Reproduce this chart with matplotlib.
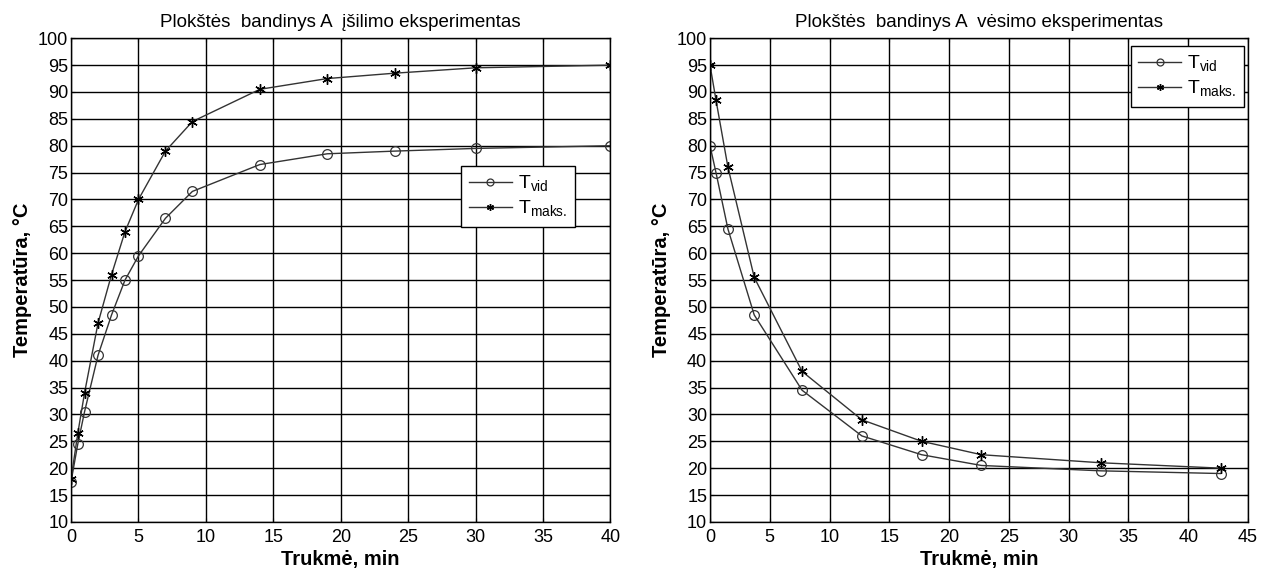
import numpy as np
import matplotlib
matplotlib.use("Agg")
import matplotlib.pyplot as plt

plt.rcParams['font.family'] = ['Liberation Sans', 'DejaVu Sans']
plt.rcParams['mathtext.fontset'] = 'custom'
plt.rcParams['mathtext.rm'] = 'Liberation Sans'

# heating experiment
heat_t = [0, 0.5, 1, 2, 3, 4, 5, 7, 9, 14, 19, 24, 30, 40]
heat_vid = [17.5, 24.5, 30.5, 41, 48.5, 55, 59.5, 66.5, 71.5, 76.5, 78.5, 79, 79.5, 80]
heat_maks = [18, 26.5, 34, 47, 56, 64, 70, 79, 84.5, 90.5, 92.5, 93.5, 94.5, 95]

# cooling experiment
cool_t = [0, 0.5, 1.5, 3.7, 7.7, 12.7, 17.7, 22.7, 32.7, 42.7]
cool_vid = [80, 75, 64.5, 48.5, 34.5, 26, 22.5, 20.5, 19.5, 19]
cool_maks = [95, 88.5, 76, 55.5, 38, 29, 25, 22.5, 21, 20]

titles = ["Plokštės  bandinys A  įšilimo eksperimentas",
          "Plokštės  bandinys A  vėsimo eksperimentas"]
xlims = [40, 45]
line_col = '#333333'

fig = plt.figure(figsize=(12.69, 5.71), dpi=100)
ax1 = fig.add_axes([0.056, 0.086, 0.425, 0.847])
ax2 = fig.add_axes([0.5595, 0.086, 0.424, 0.847])

data = [(heat_t, heat_vid, heat_maks), (cool_t, cool_vid, cool_maks)]
for i, (ax, (t, vid, maks)) in enumerate(zip([ax1, ax2], data)):
    ax.plot(t, vid, '-', color=line_col, lw=1.0, marker='o', ms=7,
            mfc='none', mec=line_col, mew=0.9, label=r'T$_{\mathrm{vid}}$')
    ax.plot(t, maks, '-', color=line_col, lw=1.0, marker=(6, 2, 0), ms=7.5,
            mec='black', mew=1.0, label=r'T$_{\mathrm{maks.}}$')
    ax.set_xlim(0, xlims[i])
    ax.set_ylim(10, 100)
    ax.set_yticks(np.arange(10, 101, 5))
    ax.set_xticks(np.arange(0, xlims[i] + 1, 5))
    ax.grid(True, color='black', lw=1.0, ls='-')
    ax.set_axisbelow(True)
    ax.tick_params(direction='in', length=3, labelsize=13, top=True, right=True)
    ax.tick_params(axis='x', pad=5)
    ax.tick_params(axis='y', pad=2)
    for s in ax.spines.values():
        s.set_linewidth(1.0)
    ax.set_title(titles[i], fontsize=13.5, pad=8)
    ax.set_xlabel('Trukmė, min', fontsize=14.5, fontweight='bold', labelpad=3)
    ax.set_ylabel('Temperatūra, °C', fontsize=14.5, fontweight='bold', labelpad=4)

leg_kw = dict(fontsize=14, fancybox=False, edgecolor='black', framealpha=1,
              handlelength=2.2, handletextpad=0.3, borderpad=0.4,
              labelspacing=0.25, borderaxespad=0)
leg1 = ax1.legend(loc='upper left', bbox_to_anchor=(0.7236, 0.7355), **leg_kw)
leg2 = ax2.legend(loc='upper right', bbox_to_anchor=(0.9926, 0.9835), **leg_kw)
for leg in (leg1, leg2):
    leg.get_frame().set_linewidth(1.0)
    for h in leg.legend_handles:
        h.set_markersize(5)

fig.savefig('out.png', dpi=100)
